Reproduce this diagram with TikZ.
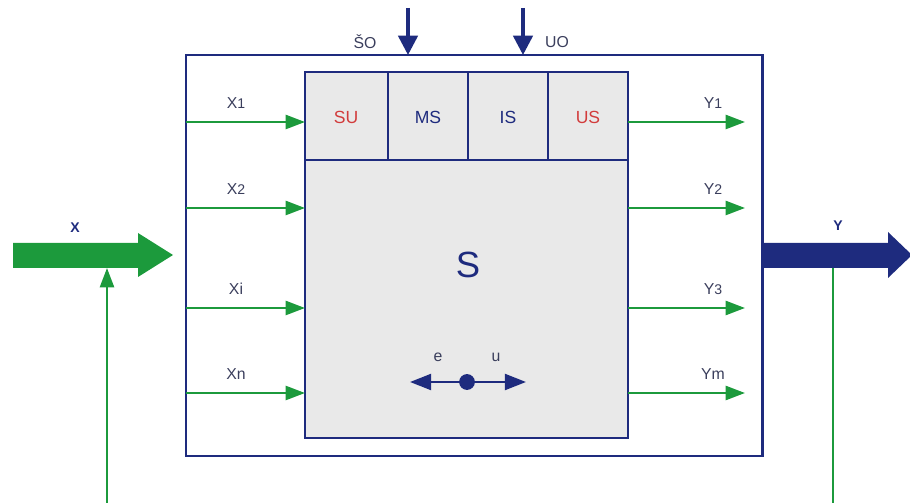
\documentclass[tikz,border=0pt]{standalone}
\usepackage{fontspec}
\setmainfont{Liberation Sans}
\usetikzlibrary{arrows.meta,calc}
\definecolor{sysNavy}{HTML}{1E2B7E}
\definecolor{sysGreen}{HTML}{1C9A3C}
\definecolor{sysRed}{HTML}{D23C3C}
\definecolor{sysGrey}{HTML}{E9E9E9}
\definecolor{sysText}{HTML}{3A3E5C}

\begin{document}
\begin{tikzpicture}[x=0.02cm, y=-0.02cm,
  sigArrow/.style={sysGreen, line width=1.3pt,
    -{Triangle[length=11pt, width=8pt]}},
  ctrlArrow/.style={sysNavy, line width=2pt,
    -{Triangle[length=11pt, width=11pt]}},
  boxLine/.style={sysNavy, line width=1.7pt},
  sigLabel/.style={font=\small, color=sysText},
  cellLabel/.style={font=\normalsize, color=sysNavy}]

\useasboundingbox (0,0) rectangle (910,503);

%% --- BOXES ---
\coordinate (outerNW) at (186,55);
\coordinate (outerSE) at (762,456);
\coordinate (innerNW) at (305,72);
\coordinate (innerSE) at (628,438);
\draw[boxLine] (outerNW) rectangle (outerSE);
\draw[boxLine, fill=sysGrey] (innerNW) rectangle (innerSE);
\coordinate (rowW) at (305,160);
\coordinate (rowE) at (628,160);
\draw[boxLine] (rowW) -- (rowE);
\foreach \xs [count=\i] in {388, 468, 548} {
  \coordinate (sepT\i) at (\xs, 72);
  \coordinate (sepB\i) at (\xs, 160);
  \draw[boxLine] (sepT\i) -- (sepB\i);
}

%% --- CELLS ---
\node[cellLabel, color=sysRed] (su) at (346,117) {SU};
\node[cellLabel] (ms) at (428,117) {MS};
\node[cellLabel] (is) at (508,117) {IS};
\node[cellLabel, color=sysRed] (us) at (588,117) {US};
\node[font=\huge, color=sysNavy] (sys) at (468,265) {S};

%% --- CONTROL INPUTS ---
\coordinate (soTop) at (408,8);
\coordinate (soBot) at (408,55);
\coordinate (uoTop) at (523,8);
\coordinate (uoBot) at (523,55);
\draw[ctrlArrow] (soTop) -- (soBot);
\draw[ctrlArrow] (uoTop) -- (uoBot);
\node[sigLabel] (so) at (365,42) {ŠO};
\node[sigLabel] (uo) at (557,42) {UO};

%% --- INPUTS AND OUTPUTS ---
\foreach \yv/\xlab/\ylab [count=\i] in {122/{X{\footnotesize 1}}/{Y{\footnotesize 1}},
    208/{X{\footnotesize 2}}/{Y{\footnotesize 2}},
    308/{Xi}/{Y{\footnotesize 3}},
    393/{Xn}/{Ym}} {
  \coordinate (inS\i) at (186,\yv);
  \coordinate (inE\i) at (305,\yv);
  \coordinate (outS\i) at (628,\yv);
  \coordinate (outE\i) at (745,\yv);
  \draw[sigArrow] (inS\i) -- (inE\i);
  \draw[sigArrow] (outS\i) -- (outE\i);
  \node[sigLabel] (xl\i) at (236,\yv-19) {\xlab};
  \node[sigLabel] (yl\i) at (713,\yv-19) {\ylab};
}

%% --- E / U ---
\node[circle, fill=sysNavy, inner sep=0pt, minimum size=9pt] (dot) at (467,382) {};
\coordinate (eEnd) at (410,382);
\coordinate (uEnd) at (526,382);
\draw[sysNavy, line width=1.6pt, -{Triangle[length=12pt, width=9pt]}] (dot) -- (eEnd);
\draw[sysNavy, line width=1.6pt, -{Triangle[length=12pt, width=9pt]}] (dot) -- (uEnd);
\node[sigLabel] (el) at (438,357) {e};
\node[sigLabel] (ul) at (496,357) {u};

%% --- BIG ARROWS X, Y ---
\fill[sysGreen] (13,243) -- (138,243) -- (138,233) -- (173,255)
  -- (138,277) -- (138,268) -- (13,268) -- cycle;
\fill[sysNavy] (762,243) -- (888,243) -- (888,232) -- (912,255)
  -- (888,278) -- (888,268) -- (762,268) -- cycle;
\node[font=\footnotesize\bfseries, color=sysNavy] (xbig) at (75,228) {X};
\node[font=\footnotesize\bfseries, color=sysNavy] (ybig) at (838,226) {Y};

%% --- FEEDBACK ---
\coordinate (fbL) at (107,503);
\coordinate (xBot) at (107,268);
\coordinate (yBot) at (833,268);
\coordinate (fbR) at (833,503);
\draw[sigArrow] (fbL) -- (xBot);
\draw[sysGreen, line width=1.3pt] (yBot) -- (fbR);

\end{tikzpicture}
\end{document}
